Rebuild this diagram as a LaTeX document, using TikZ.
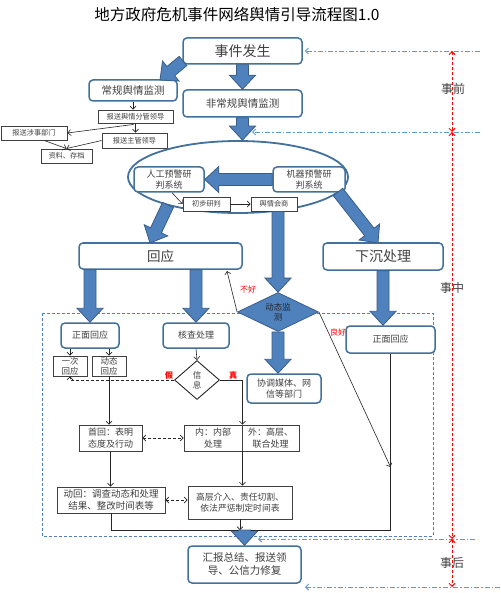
\documentclass[tikz,border=0pt]{standalone}
\usepackage{fontspec}
\setmainfont{Noto Sans CJK SC}
\usetikzlibrary{arrows.meta,calc,shapes.geometric}
\definecolor{bfill}{HTML}{4F81BD}
\definecolor{bdraw}{HTML}{385D8A}
\definecolor{bbord}{HTML}{41719C}
\definecolor{tgray}{HTML}{404040}
\definecolor{ddot}{HTML}{5B9BD5}
\newcommand\fatarr[2]{%
  \coordinate (fa1) at (#1);
  \coordinate (fa2) at (#2);
  \coordinate (fah) at ($(fa2)!14pt!(fa1)$);
  \filldraw[fill=bfill,draw=bdraw,line width=0.8pt,line join=miter]
    ($(fa1)!6pt!90:(fa2)$) -- ($(fah)!6pt!90:(fa2)$) -- ($(fah)!13pt!90:(fa2)$) -- (fa2)
    -- ($(fah)!13pt!-90:(fa2)$) -- ($(fah)!6pt!-90:(fa2)$) -- ($(fa1)!6pt!-90:(fa2)$) -- cycle;
}
\begin{document}
\begin{tikzpicture}[x=1pt,y=-1pt,
  rbox/.style={draw=bbord,line width=1.5pt,rounded corners=4pt,fill=white,text=tgray,align=center,inner sep=0pt},
  sbox/.style={draw=black!75,line width=0.9pt,fill=white,text=tgray,align=center,inner sep=0pt},
  tarr/.style={line width=0.6pt,draw=black!85,-{Straight Barb[length=3pt,width=6pt]}},
  tline/.style={line width=0.6pt,draw=black!85},
  ddash/.style={line width=0.7pt,draw=black!85,dash pattern=on 3pt off 2pt,{Straight Barb[length=3pt,width=6pt]}-{Straight Barb[length=3pt,width=6pt]}},
  bdd/.style={draw=ddot,line width=0.9pt,dash pattern=on 5pt off 2pt on 1.5pt off 2pt,-{Straight Barb[length=3pt,width=6pt]}},
  rdash/.style={draw=red,line width=0.9pt,dash pattern=on 3pt off 2pt,{Straight Barb[length=3pt,width=6pt]}-{Straight Barb[length=3pt,width=6pt]}},
  lbl/.style={text=red,font=\fontsize{8}{9}\selectfont,inner sep=0pt},
  phase/.style={text=tgray,font=\fontsize{12}{14}\selectfont,inner sep=0pt},
  fa/.style={font=\fontsize{7.2}{8.5}\selectfont},
  fb/.style={font=\fontsize{8.5}{10}\selectfont},
  fc/.style={font=\fontsize{9}{11.5}\selectfont},
  fd/.style={font=\fontsize{10.5}{13}\selectfont},
  fe/.style={font=\fontsize{14}{16}\selectfont},
]
\fill[white] (0,0) rectangle (500,593);
\useasboundingbox (0,0) rectangle (500,593);

% title
\node[font=\fontsize{15.5}{18}\selectfont,inner sep=0pt] (title) at (237,15) {地方政府危机事件网络舆情引导流程图1.0};

% dashed region
\draw[draw=bfill,line width=0.9pt,dash pattern=on 3pt off 2pt] (42,313) rectangle (433,536);

% top section
\node[rbox,fe,minimum width=119,minimum height=26] (evt) at (242.5,51) {事件发生};
\node[rbox,fd,minimum width=88,minimum height=21] (reg) at (133,90.5) {常规舆情监测};
\node[rbox,fd,minimum width=119,minimum height=27] (nonreg) at (242.5,103.5) {非常规舆情监测};
\node[sbox,fa,minimum width=75,minimum height=13] (fg) at (135.5,116.5) {报送舆情分管领导};
\node[sbox,fa,minimum width=65,minimum height=15] (zg) at (134.5,140.5) {报送主管领导};
\node[sbox,fa,minimum width=66,minimum height=14] (ss) at (34,133) {报送涉事部门};
\node[sbox,fa,minimum width=51,minimum height=14] (zl) at (66.5,156) {资料、存档};

% ellipse
\node[draw=bbord,line width=1.8pt,ellipse,minimum width=220,minimum height=72,inner sep=0pt] (ell) at (238,177) {};
\node[rbox,fc,minimum width=70,minimum height=25] (rg) at (169,179.5) {人工预警研\\判系统};
\node[rbox,fc,minimum width=72,minimum height=25] (jq) at (309,179.5) {机器预警研\\判系统};
\node[sbox,fa,minimum width=47,minimum height=14] (cb) at (206.5,204) {初步研判};
\node[sbox,fa,minimum width=46,minimum height=14] (hs) at (274,204) {舆情会商};

% middle
\node[rbox,font=\fontsize{13.5}{15}\selectfont,minimum width=163,minimum height=26] (hy) at (160.5,256) {回应};
\node[rbox,fe,minimum width=120,minimum height=27] (xc) at (383,256.5) {下沉处理};
\node[diamond,aspect=2,fill=bfill,draw=bdraw,line width=0.8pt,minimum width=81,minimum height=39,inner sep=0pt,align=center,text=black!85,fb] (dm) at (278,312) {动态监\\测};

\node[rbox,fc,minimum width=58,minimum height=25] (zmL) at (90,335.5) {正面回应};
\node[rbox,fc,minimum width=66,minimum height=25] (hc) at (196,335.5) {核查处理};
\node[rbox,fc,minimum width=89,minimum height=27] (zmR) at (390.5,339.5) {正面回应};
\node[sbox,fb,minimum width=34,minimum height=20] (yc) at (70,366) {一次\\回应};
\node[sbox,fb,minimum width=34,minimum height=20] (dt) at (109,366) {动态\\回应};
\node[diamond,draw=black!85,line width=0.9pt,fill=white,minimum width=45,minimum height=39,inner sep=0pt,align=center,text=tgray,fb] (info) at (197,380) {信\\息};
\node[rbox,fc,minimum width=74,minimum height=29] (xt) at (284,388.5) {协调媒体、网\\信等部门};

\node[sbox,fc,minimum width=63,minimum height=26] (sh) at (110.5,438) {首回：表明\\态度及行动};
\node[sbox,fc,minimum width=58,minimum height=26] (nei) at (213,438) {内：内部\\处理};
\node[sbox,fc,minimum width=57,minimum height=26] (wai) at (270.5,438) {外：高层、\\联合处理};
\node[sbox,font=\fontsize{9.5}{12}\selectfont,minimum width=108,minimum height=26] (dh) at (111,500) {动回：调查动态和处理\\结果、整改时间表等};
\node[sbox,font=\fontsize{8.8}{11.5}\selectfont,minimum width=104,minimum height=33] (gc) at (240,502.5) {高层介入、责任切割、\\依法严惩制定时间表};
\node[rbox,fd,minimum width=113,minimum height=37] (hb) at (244.5,564.5) {汇报总结、报送领\\导、公信力修复};

% labels
\node[lbl] (bh) at (248,289) {不好};
\node[lbl] (lh) at (338,332) {良好};
\node[lbl,font=\bfseries\fontsize{8}{9}\selectfont] (jia) at (169,375) {假};
\node[lbl,font=\bfseries\fontsize{8}{9}\selectfont] (zhen) at (233,375) {真};
\node[phase] (sq) at (453,89) {事前};
\node[phase] (sz) at (452,288) {事中};
\node[phase] (sho) at (452,563) {事后};

% coordinates
\coordinate (bj) at (390.5,530);
\coordinate (bl) at (111,530);
\coordinate (gd) at (390.5,467);
\coordinate (hyc) at (227,271);
\coordinate (r1) at (452,51);
\coordinate (r2) at (452,132);
\coordinate (r3) at (452,539);
\coordinate (r4) at (452,587);
\coordinate (d1s) at (480,51);
\coordinate (d2s) at (480,132);
\coordinate (d2e) at (252,132);
\coordinate (d3s) at (475,539);
\coordinate (d3e) at (258,539);
\coordinate (d4s) at (500,587);
\coordinate (d4e) at (305,587);
\coordinate (a1s) at (183,61);
\coordinate (a1e) at (160,80);
\coordinate (a5s) at (168,205);
\coordinate (a5e) at (150,243);
\coordinate (a6s) at (338,192);
\coordinate (a6e) at (378,243);

% fat arrows
\fatarr{a1s}{a1e}
\fatarr{evt.south}{nonreg.north}
\fatarr{nonreg.south |- nonreg.south}{nonreg.south |- ell.north}
\fatarr{jq.west}{rg.east}
\fatarr{a5s}{a5e}
\fatarr{a6s}{a6e}
\fatarr{hs.south -| dm.north}{dm.north}
\fatarr{hy.south -| zmL.north}{zmL.north}
\fatarr{hy.south -| hc.north}{hc.north}
\fatarr{xc.south}{xc.south |- zmR.north}
\fatarr{dm.south}{dm.south |- xt.north}

% thin connectors
\draw[tarr] (reg.south) -- (reg.south |- fg.north);
\draw[tarr] (fg.south) -- (fg.south |- zg.north);
\draw[tarr] ($(fg.south)+(-2,1)$) -- (ss.east);
\draw[tarr] ($(ss.south)+(10,0)$) -- (zl.north);
\draw[tarr] (zg.west) -- (zl.north);
\draw[tarr] ($(rg.south)+(3,0)$) -- (cb.west);
\draw[tarr] (cb.east) -- (hs.west);
\draw[tarr] (zmL.south -| yc.north) -- (yc.north);
\draw[tarr] (zmL.south -| dt.north) -- (dt.north);
\draw[tarr] (hc.south) -- (info.north);
\draw[tarr,dash pattern=on 3pt off 2pt] (info.west) -- (info.west -| yc.south) -- (yc.south);
\draw[tarr] (info.east) -- (info.east -| nei.east) -- (nei.north east);
\draw[tarr] (nei.south east) -- (nei.south east |- gc.north);
\draw[tarr] (dt.south) -- (dt.south |- sh.north);
\draw[tarr] (sh.south) -- (sh.south |- dh.north);
\draw[ddash] (sh.east) -- (nei.west);
\draw[ddash] (dh.east) -- (dh.east -| gc.west);
\draw[tline] (zmR.south) -- (bj) -- (bl) -- (dh.south);
\draw[tarr] (gc.south) -- (gc.south |- bj);
\draw[tarr] (dm.east) -- (gd);
\draw[tarr] (dm.west) -- (hyc);
\fatarr{hb.north |- bj}{hb.north}

% phase lines
\draw[bdd,shorten >=2pt] (d1s) -- (evt.east);
\draw[bdd] (d2s) -- (d2e);
\draw[bdd] (d3s) -- (d3e);
\draw[bdd] (d4s) -- (d4e);
\draw[rdash] (r1) -- (r2);
\draw[rdash] (r2) -- (r3);
\draw[rdash] (r3) -- (r4);
\end{tikzpicture}
\end{document}
